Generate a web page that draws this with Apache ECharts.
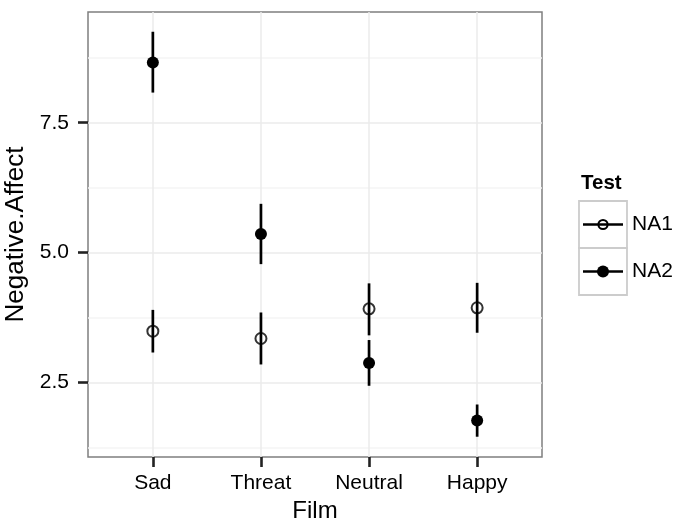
<!DOCTYPE html>
<html>
<head>
<meta charset="utf-8">
<script src="https://cdn.jsdelivr.net/npm/echarts@6/dist/echarts.min.js"></script>
<style>
  html, body { margin: 0; padding: 0; background: #fff; }
  #chart { width: 674px; height: 520px; }
</style>
</head>
<body>
<div id="chart"></div>
<script>
// Negative affect by film, for the two tests (mean with interval)
const films = ['Sad', 'Threat', 'Neutral', 'Happy'];
const na1Mean = [3.49, 3.35, 3.92, 3.94];
const na1Low  = [3.08, 2.85, 3.41, 3.46];
const na1High = [3.90, 3.85, 4.41, 4.42];
const na2Mean = [8.66, 5.36, 2.88, 1.77];
const na2Low  = [8.08, 4.78, 2.44, 1.46];
const na2High = [9.25, 5.94, 3.32, 2.08];
const yTicks = [2.5, 5.0, 7.5];
const yMinorTicks = [1.25, 3.75, 6.25, 8.75];
const testNames = ['NA1', 'NA2'];

const FONT = "'Liberation Sans', Arial, Helvetica, sans-serif";
const filmPos = films.map((f, i) => i + 1);

function rangeData(low, high) {
  return films.map((f, i) => [i + 1, low[i], high[i]]);
}
function pointData(mean) {
  return films.map((f, i) => [i + 1, mean[i]]);
}

function renderRange(params, api) {
  const p0 = api.coord([api.value(0), api.value(1)]);
  const p1 = api.coord([api.value(0), api.value(2)]);
  return {
    type: 'line',
    shape: { x1: p0[0], y1: p0[1], x2: p1[0], y2: p1[1] },
    style: { stroke: '#000', lineWidth: 2.7, lineCap: 'butt' }
  };
}

const chart = echarts.init(document.getElementById('chart'), null, { renderer: 'canvas' });

const yRange = { min: 1.07, max: 9.63 };

const option = {
  animation: false,
  backgroundColor: '#fff',
  textStyle: { fontFamily: FONT },
  grid: {
    left: 88, right: 132, top: 12, bottom: 63,
    containLabel: false,
    outerBoundsMode: 'none',
    show: true,
    backgroundColor: '#fff',
    borderColor: '#7f7f7f',
    borderWidth: 1.5
  },
  xAxis: {
    type: 'value',
    min: 0.4, max: 4.6,
    name: 'Film',
    nameLocation: 'middle',
    nameGap: 40,
    nameTextStyle: { fontSize: 24, color: '#000', fontFamily: FONT },
    axisLine: { show: false },
    axisTick: { show: true, customValues: filmPos, length: 10, lineStyle: { color: '#222', width: 2.6 } },
    axisLabel: {
      customValues: filmPos,
      margin: 16,
      fontSize: 21,
      color: '#000',
      fontFamily: FONT,
      formatter: v => films[Math.round(v) - 1] || ''
    },
    splitLine: { show: true, lineStyle: { color: '#ebebeb', width: 1.5 } }
  },
  yAxis: [
    {
      type: 'value',
      min: yRange.min, max: yRange.max,
      name: 'Negative.Affect',
      nameLocation: 'middle',
      nameRotate: 90,
      nameGap: 54.5,
      nameTextStyle: { fontSize: 26, color: '#000', fontFamily: FONT },
      axisLine: { show: false },
      axisTick: { show: true, customValues: yTicks, length: 10, lineStyle: { color: '#222', width: 2.6 } },
      axisLabel: {
        customValues: yTicks,
        margin: 19,
        fontSize: 21,
        color: '#000',
        fontFamily: FONT,
        formatter: v => v.toFixed(1)
      },
      splitLine: { show: true, lineStyle: { color: '#ebebeb', width: 1.5 } },
      z: 1
    },
    {
      // minor grid lines
      type: 'value',
      min: yRange.min, max: yRange.max,
      position: 'left',
      axisLine: { show: false },
      axisTick: { show: false, customValues: yMinorTicks },
      axisLabel: { show: false, customValues: yMinorTicks },
      splitLine: { show: true, lineStyle: { color: '#f5f5f5', width: 1.5 } },
      z: 0
    }
  ],
  series: [
    {
      name: 'NA1 range', type: 'custom', renderItem: renderRange,
      data: rangeData(na1Low, na1High), encode: { x: 0, y: [1, 2] }, z: 2
    },
    {
      name: 'NA2 range', type: 'custom', renderItem: renderRange,
      data: rangeData(na2Low, na2High), encode: { x: 0, y: [1, 2] }, z: 2
    },
    {
      name: testNames[0], type: 'scatter', data: pointData(na1Mean),
      symbol: 'circle', symbolSize: 11,
      itemStyle: { color: 'rgba(0,0,0,0)', borderColor: '#000', borderWidth: 2 },
      z: 3
    },
    {
      name: testNames[1], type: 'scatter', data: pointData(na2Mean),
      symbol: 'circle', symbolSize: 12,
      itemStyle: { color: '#000', borderWidth: 0, opacity: 1 },
      z: 3
    }
  ],
  graphic: [
    {
      type: 'text', x: 581, y: 183.5,
      style: { text: 'Test', font: 'bold 20.5px ' + FONT, fill: '#000', verticalAlign: 'middle' }
    },
    {
      type: 'rect', shape: { x: 579, y: 201, width: 48, height: 47 },
      style: { fill: '#fff', stroke: '#cccccc', lineWidth: 1.8 }
    },
    {
      type: 'rect', shape: { x: 579, y: 248, width: 48, height: 47 },
      style: { fill: '#fff', stroke: '#cccccc', lineWidth: 1.8 }
    },
    {
      type: 'line', shape: { x1: 583, y1: 224.5, x2: 623, y2: 224.5 },
      style: { stroke: '#000', lineWidth: 2.7 }
    },
    {
      type: 'circle', shape: { cx: 603, cy: 224.5, r: 4.6 },
      style: { fill: 'none', stroke: '#000', lineWidth: 2 }
    },
    {
      type: 'line', shape: { x1: 583, y1: 271.5, x2: 623, y2: 271.5 },
      style: { stroke: '#000', lineWidth: 2.7 }
    },
    {
      type: 'circle', shape: { cx: 603, cy: 271.5, r: 6 },
      style: { fill: '#000' }
    },
    {
      type: 'text', x: 632, y: 224.5,
      style: { text: testNames[0], font: '21px ' + FONT, fill: '#000', verticalAlign: 'middle' }
    },
    {
      type: 'text', x: 632, y: 271.5,
      style: { text: testNames[1], font: '21px ' + FONT, fill: '#000', verticalAlign: 'middle' }
    }
  ]
};

chart.setOption(option);
</script>
</body>
</html>
